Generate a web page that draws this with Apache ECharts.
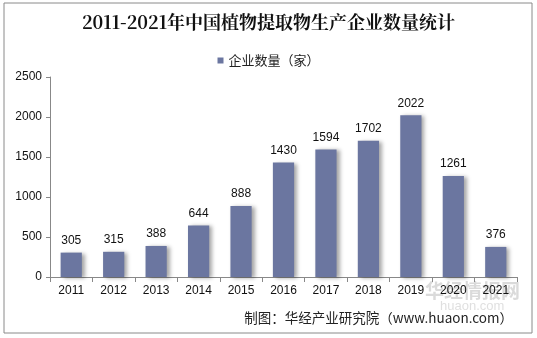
<!DOCTYPE html>
<html><head><meta charset="utf-8">
<script src="https://cdn.jsdelivr.net/npm/echarts@6/dist/echarts.min.js"></script>
<style>html,body{margin:0;padding:0;background:#fff}#c{width:537px;height:338px}</style>
</head><body><div id="c"></div>
<script>
const categories = ['2011','2012','2013','2014','2015','2016','2017','2018','2019','2020','2021'];
const values = [305,315,388,644,888,1430,1594,1702,2022,1261,376];
const seriesName = '企业数量（家）';
const titleText = '2011-2021年中国植物提取物生产企业数量统计';
const sourceText = '制图：华经产业研究院（www.huaon.com）';

const chart = echarts.init(document.getElementById('c'));
chart.setOption({
  animation: false,
  backgroundColor: '#fff',
  title: {
    text: titleText, left: 'center', top: 8,
    textStyle: {fontFamily: 'Noto Serif CJK SC, Noto Sans CJK SC, serif', fontSize: 18, fontWeight: 'bold', color: '#111'}
  },
  legend: {
    top: 49, left: 'center', itemWidth: 6, itemHeight: 6, icon: 'rect', itemGap: 4,
    textStyle: {fontFamily: 'Noto Sans CJK SC', fontSize: 13, color: '#222'}
  },
  graphic: [
    {type: 'rect', shape: {x: 4, y: 3, width: 528, height: 330}, style: {fill: 'none', stroke: '#8a8a8a', lineWidth: 1}, silent: true},
    {type: 'text', left: 425, top: 281, style: {text: '华经情报网', font: 'bold 19px "Noto Sans CJK SC"', fill: 'rgba(150,150,150,0.35)'}},
    {type: 'text', left: 440, top: 300, style: {text: 'huaon.com', font: '13px "Liberation Sans"', fill: 'rgba(150,150,150,0.3)'}},
    {type: 'text', right: 24, top: 311, style: {text: sourceText, font: '13.5px "Noto Sans CJK SC"', fill: '#222'}}
  ],
  grid: {left: 50, right: 20, top: 77, bottom: 61, containLabel: false},
  xAxis: {
    type: 'category', data: categories,
    axisLine: {lineStyle: {color: '#888'}},
    axisTick: {show: true, lineStyle: {color: '#888'}},
    axisLabel: {color: '#111', fontFamily: 'Liberation Sans', fontSize: 12, margin: 8}
  },
  yAxis: {
    type: 'value', min: 0, max: 2500, interval: 500,
    axisLine: {show: true, lineStyle: {color: '#888'}},
    axisTick: {show: true, length: 4, lineStyle: {color: '#888'}},
    splitLine: {show: false},
    axisLabel: {color: '#111', fontFamily: 'Liberation Sans', fontSize: 12, margin: 8, formatter: v => String(v)}
  },
  series: [{
    name: seriesName, type: 'bar', data: values, barWidth: '50%',
    itemStyle: {color: '#6b76a0', shadowColor: 'rgba(0,0,0,0.35)', shadowBlur: 4, shadowOffsetX: 3, shadowOffsetY: 1},
    label: {show: true, position: 'top', distance: 6, color: '#111', fontFamily: 'Liberation Sans', fontSize: 12}
  }]
});
</script></body></html>
